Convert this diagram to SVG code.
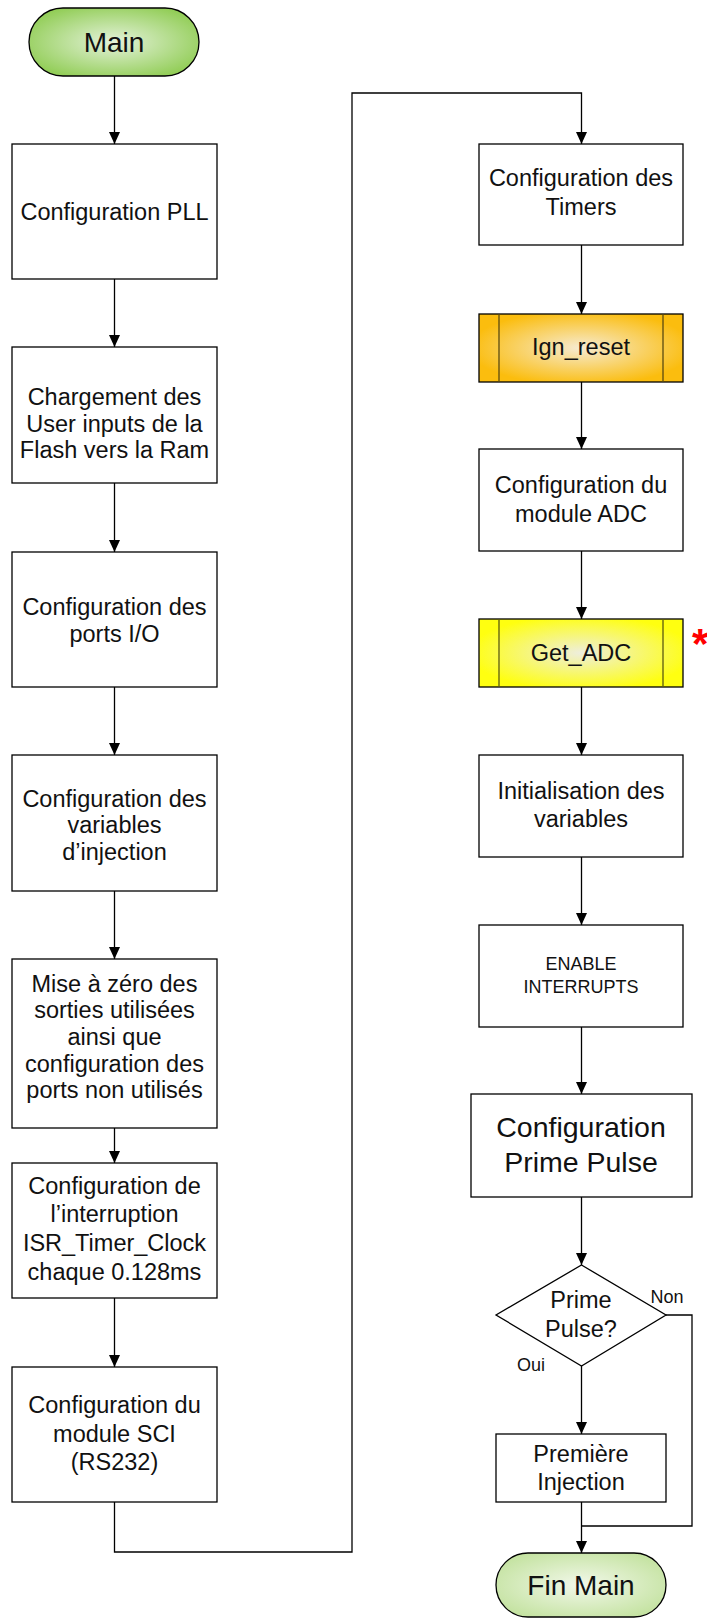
<svg xmlns="http://www.w3.org/2000/svg" width="707" height="1618" viewBox="0 0 707 1618">
<style>
text{font-family:"Liberation Sans",Arial,sans-serif;font-size:23.5px;fill:#111;text-anchor:middle}
.box{fill:#fff;stroke:#000;stroke-width:1.3}
.c{fill:none;stroke:#000;stroke-width:1.3}
.sm{font-size:18px}
.lg{font-size:28.5px}
</style>
<defs>
<marker id="ah" markerUnits="userSpaceOnUse" markerWidth="12" markerHeight="12" refX="12" refY="5.5" orient="auto">
<path d="M0,0 L12,5.5 L0,11 z" fill="#000"/>
</marker>
<radialGradient id="gMain" cx="50%" cy="50%" r="60%">
<stop offset="0" stop-color="#e4f2da"/>
<stop offset="1" stop-color="#8fcc52"/>
</radialGradient>
<radialGradient id="gFin" cx="50%" cy="50%" r="60%">
<stop offset="0" stop-color="#f2f8ea"/>
<stop offset="1" stop-color="#c3e29f"/>
</radialGradient>
<radialGradient id="gOr" cx="50%" cy="50%" r="55%">
<stop offset="0" stop-color="#f6ebd2"/>
<stop offset="1" stop-color="#fbbd0e"/>
</radialGradient>
<radialGradient id="gYe" cx="50%" cy="50%" r="55%">
<stop offset="0" stop-color="#eeeedd"/>
<stop offset="1" stop-color="#ffff10"/>
</radialGradient>
</defs>

<g id="connectors">
<path class="c" d="M114.5,76 V144" marker-end="url(#ah)"/>
<path class="c" d="M114.5,279 V347" marker-end="url(#ah)"/>
<path class="c" d="M114.5,483 V552" marker-end="url(#ah)"/>
<path class="c" d="M114.5,687 V755" marker-end="url(#ah)"/>
<path class="c" d="M114.5,891 V959" marker-end="url(#ah)"/>
<path class="c" d="M114.5,1128 V1163" marker-end="url(#ah)"/>
<path class="c" d="M114.5,1298 V1367" marker-end="url(#ah)"/>
<path class="c" d="M114.5,1502 V1552 H352 V93 H581.5 V144" marker-end="url(#ah)"/>
<path class="c" d="M581.5,245 V314" marker-end="url(#ah)"/>
<path class="c" d="M581.5,382 V449" marker-end="url(#ah)"/>
<path class="c" d="M581.5,551 V619" marker-end="url(#ah)"/>
<path class="c" d="M581.5,687 V755" marker-end="url(#ah)"/>
<path class="c" d="M581.5,857 V925" marker-end="url(#ah)"/>
<path class="c" d="M581.5,1027 V1094" marker-end="url(#ah)"/>
<path class="c" d="M581.5,1197 V1265" marker-end="url(#ah)"/>
<path class="c" d="M581.5,1366 V1434" marker-end="url(#ah)"/>
<path class="c" d="M581.5,1502 V1553" marker-end="url(#ah)"/>
<path class="c" d="M666,1315 H692 V1526 H581.5"/>
<text class="sm" x="667" y="1303">Non</text>
<text class="sm" x="531" y="1371">Oui</text>
</g>

<g id="main">
<rect x="29" y="8" width="170" height="68" rx="34" ry="34" fill="url(#gMain)" stroke="#000" stroke-width="1.3"/>
<text x="114" y="52" style="font-size:28px">Main</text>
</g>

<g id="cfg-pll">
<rect class="box" x="12" y="144" width="205" height="135"/>
<text x="114.5" y="220">Configuration PLL</text>
</g>

<g id="chargement">
<rect class="box" x="12" y="347" width="205" height="136"/>
<text x="114.5" y="405">Chargement des</text>
<text x="114.5" y="432">User inputs de la</text>
<text x="114.5" y="458">Flash vers la Ram</text>
</g>

<g id="cfg-ports">
<rect class="box" x="12" y="552" width="205" height="135"/>
<text x="114.5" y="615">Configuration des</text>
<text x="114.5" y="642">ports I/O</text>
</g>

<g id="cfg-var-inj">
<rect class="box" x="12" y="755" width="205" height="136"/>
<text x="114.5" y="807">Configuration des</text>
<text x="114.5" y="833">variables</text>
<text x="114.5" y="860">d’injection</text>
</g>

<g id="mise-a-zero">
<rect class="box" x="12" y="959" width="205" height="169"/>
<text x="114.5" y="992">Mise à zéro des</text>
<text x="114.5" y="1018">sorties utilisées</text>
<text x="114.5" y="1045">ainsi que</text>
<text x="114.5" y="1072">configuration des</text>
<text x="114.5" y="1098">ports non utilisés</text>
</g>

<g id="cfg-interrupt">
<rect class="box" x="12" y="1163" width="205" height="135"/>
<text x="114.5" y="1194">Configuration de</text>
<text x="114.5" y="1222">l’interruption</text>
<text x="114.5" y="1251">ISR_Timer_Clock</text>
<text x="114.5" y="1280">chaque 0.128ms</text>
</g>

<g id="cfg-sci">
<rect class="box" x="12" y="1367" width="205" height="135"/>
<text x="114.5" y="1413">Configuration du</text>
<text x="114.5" y="1442">module SCI</text>
<text x="114.5" y="1470">(RS232)</text>
</g>

<g id="cfg-timers">
<rect class="box" x="479" y="144" width="204" height="101"/>
<text x="581" y="186">Configuration des</text>
<text x="581" y="215">Timers</text>
</g>

<g id="ign-reset">
<rect x="479" y="314" width="204" height="68" fill="url(#gOr)" stroke="#000" stroke-width="1.3"/>
<line x1="499" y1="314" x2="499" y2="382" stroke="#5a4a10" stroke-width="1.3"/>
<line x1="663" y1="314" x2="663" y2="382" stroke="#5a4a10" stroke-width="1.3"/>
<text x="581" y="355">Ign_reset</text>
</g>

<g id="cfg-adc">
<rect class="box" x="479" y="449" width="204" height="102"/>
<text x="581" y="493">Configuration du</text>
<text x="581" y="522">module ADC</text>
</g>

<g id="get-adc">
<rect x="479" y="619" width="204" height="68" fill="url(#gYe)" stroke="#000" stroke-width="1.3"/>
<line x1="499" y1="619" x2="499" y2="687" stroke="#5a5a10" stroke-width="1.3"/>
<line x1="663" y1="619" x2="663" y2="687" stroke="#5a5a10" stroke-width="1.3"/>
<text x="581" y="661">Get_ADC</text>
<text x="692" y="658" style="font-size:42px;font-weight:bold;fill:#ff0000;text-anchor:start">*</text>
</g>

<g id="init-var">
<rect class="box" x="479" y="755" width="204" height="102"/>
<text x="581" y="799">Initialisation des</text>
<text x="581" y="827">variables</text>
</g>

<g id="enable-int">
<rect class="box" x="479" y="925" width="204" height="102"/>
<text class="sm" x="581" y="970">ENABLE</text>
<text class="sm" x="581" y="993">INTERRUPTS</text>
</g>

<g id="cfg-prime">
<rect class="box" x="471" y="1094" width="221" height="103"/>
<text class="lg" x="581" y="1137">Configuration</text>
<text class="lg" x="581" y="1172">Prime Pulse</text>
</g>

<g id="prime-decision">
<polygon class="box" points="581.5,1265 666,1315 581.5,1366 496,1315"/>
<text x="581" y="1308">Prime</text>
<text x="581" y="1337">Pulse?</text>
</g>

<g id="premiere-inj">
<rect class="box" x="496" y="1434" width="170" height="68"/>
<text x="581" y="1462">Première</text>
<text x="581" y="1490">Injection</text>
</g>

<g id="fin-main">
<rect x="496" y="1553" width="170" height="64" rx="32" ry="32" fill="url(#gFin)" stroke="#000" stroke-width="1.3"/>
<text x="581" y="1595" style="font-size:28px">Fin Main</text>
</g>
</svg>
